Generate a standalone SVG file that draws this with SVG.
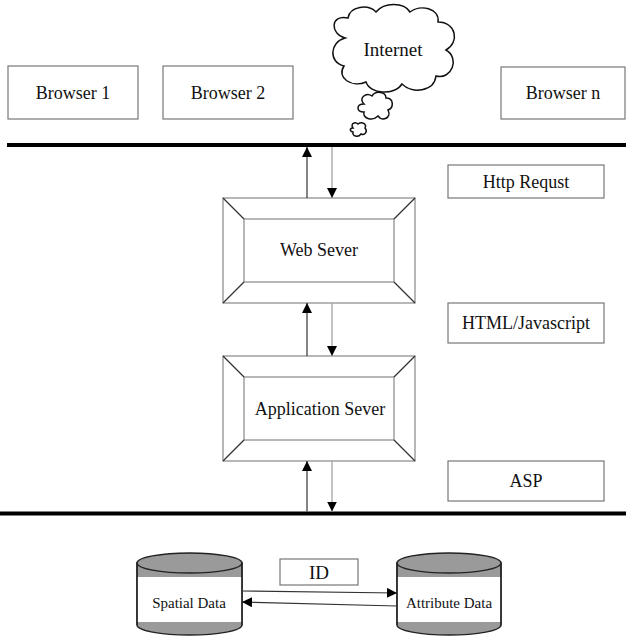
<svg xmlns="http://www.w3.org/2000/svg" width="626" height="636" viewBox="0 0 626 636">
  <defs>
    <style>
      .lbl { font-family: "Liberation Serif", "Times New Roman", serif; fill: #111; text-anchor: middle; }
      .box { fill: #fff; stroke: #777; stroke-width: 1.2; }
      .bevel { fill: #fff; stroke: #888; stroke-width: 1.2; }
      .bus { stroke: #000; stroke-width: 4; }
      .up { stroke: #333; stroke-width: 1.2; fill: none; }
      .down { stroke: #aaa; stroke-width: 1.4; fill: none; }
      .db { fill: #9a9a9a; stroke: #222; stroke-width: 1.4; }
      .cloud { fill: #fff; stroke: #111; stroke-width: 1.5; }
    </style>
    <marker id="ah" viewBox="0 0 10 10" refX="10" refY="5" markerWidth="10" markerHeight="10" markerUnits="userSpaceOnUse" orient="auto">
      <path d="M0,0 L10,5 L0,10 Z" fill="#000"/>
    </marker>
  </defs>

  <rect width="626" height="636" fill="#fff"/>

  <!-- clients -->
  <g id="browser1">
    <rect class="box" x="8" y="66" width="130" height="53"/>
    <text class="lbl" x="73" y="99" font-size="18">Browser 1</text>
  </g>
  <g id="browser2">
    <rect class="box" x="163" y="66" width="130" height="53"/>
    <text class="lbl" x="228" y="99" font-size="18">Browser 2</text>
  </g>
  <g id="browsern">
    <rect class="box" x="501" y="67" width="124" height="52"/>
    <text class="lbl" x="563" y="99" font-size="18">Browser n</text>
  </g>

  <!-- internet cloud -->
  <g id="internet">
    <path class="cloud" d="M345,38 C330,34 330,14 348,18 C350,6 368,4 376,12 C384,2 404,2 410,12 C420,4 440,8 438,22 C456,22 460,42 446,50 C460,58 452,80 436,76 C434,92 412,94 402,84 C394,96 370,94 366,82 C352,88 336,78 344,66 C328,62 330,42 345,38 Z"/>
    <path class="cloud" d="M364,104 C358,98 366,92 372,96 C376,90 386,92 386,98 C394,98 394,108 388,110 C392,118 382,122 378,116 C372,122 362,118 364,112 C356,112 356,104 364,104 Z"/>
    <path class="cloud" d="M353,128 C350,124 355,121 358,124 C362,121 367,124 365,128 C368,131 365,136 361,134 C358,138 352,136 353,132 C349,131 350,128 353,128 Z"/>
    <text class="lbl" x="393" y="56" font-size="19">Internet</text>
  </g>

  <!-- network buses -->
  <g id="buses">
    <line class="bus" x1="7" y1="145" x2="626" y2="145"/>
    <line class="bus" x1="0" y1="513.5" x2="626" y2="513.5"/>
  </g>

  <!-- servers -->
  <g id="websever">
    <rect class="bevel" x="223" y="198" width="192" height="105"/>
    <rect class="bevel" x="244" y="219" width="150" height="63"/>
    <g class="up" stroke="#888">
      <line x1="223" y1="198" x2="244" y2="219"/>
      <line x1="415" y1="198" x2="394" y2="219"/>
      <line x1="223" y1="303" x2="244" y2="282"/>
      <line x1="415" y1="303" x2="394" y2="282"/>
    </g>
    <text class="lbl" x="319" y="256" font-size="18">Web Sever</text>
  </g>

  <g id="appsever">
    <rect class="bevel" x="223" y="356" width="192" height="105"/>
    <rect class="bevel" x="244" y="377" width="150" height="63"/>
    <g class="up" stroke="#888">
      <line x1="223" y1="356" x2="244" y2="377"/>
      <line x1="415" y1="356" x2="394" y2="377"/>
      <line x1="223" y1="461" x2="244" y2="440"/>
      <line x1="415" y1="461" x2="394" y2="440"/>
    </g>
    <text class="lbl" x="320" y="415" font-size="18">Application Sever</text>
  </g>

  <!-- protocol labels -->
  <g id="httprequst">
    <rect class="box" x="448" y="165" width="156" height="33"/>
    <text class="lbl" x="526" y="188" font-size="18">Http Requst</text>
  </g>
  <g id="htmljs">
    <rect class="box" x="448" y="303" width="156" height="40"/>
    <text class="lbl" x="526" y="329" font-size="18">HTML/Javascript</text>
  </g>
  <g id="asp">
    <rect class="box" x="448" y="461" width="156" height="40"/>
    <text class="lbl" x="526" y="487" font-size="18">ASP</text>
  </g>

  <!-- data stores -->
  <g id="spatialdata">
    <path class="db" d="M137,563 L137,625 A52.5,10 0 0 0 242,625 L242,563 Z"/>
    <rect x="137.7" y="577" width="103.6" height="45" fill="#fff"/>
    <line x1="137" y1="563" x2="137" y2="625" stroke="#222" stroke-width="1.4"/>
    <line x1="242" y1="563" x2="242" y2="625" stroke="#222" stroke-width="1.4"/>
    <ellipse class="db" cx="189.5" cy="563" rx="52.5" ry="10"/>
    <text class="lbl" x="189" y="608" font-size="15">Spatial Data</text>
  </g>
  <g id="attributedata">
    <path class="db" d="M397,563 L397,625 A52,10 0 0 0 501,625 L501,563 Z"/>
    <rect x="397.7" y="577" width="102.6" height="45" fill="#fff"/>
    <line x1="397" y1="563" x2="397" y2="625" stroke="#222" stroke-width="1.4"/>
    <line x1="501" y1="563" x2="501" y2="625" stroke="#222" stroke-width="1.4"/>
    <ellipse class="db" cx="449" cy="563" rx="52" ry="10"/>
    <text class="lbl" x="449" y="608" font-size="15">Attribute Data</text>
  </g>
  <g id="idlabel">
    <rect class="box" x="280" y="559" width="78" height="26"/>
    <text class="lbl" x="319" y="579" font-size="19">ID</text>
  </g>

  <!-- connectors -->
  <g id="connectors">
    <line class="up" x1="307" y1="198" x2="307" y2="147" marker-end="url(#ah)"/>
    <line class="down" x1="332" y1="147" x2="332" y2="198" marker-end="url(#ah)"/>
    <line class="up" x1="307" y1="356" x2="307" y2="303" marker-end="url(#ah)"/>
    <line class="down" x1="332" y1="303" x2="332" y2="356" marker-end="url(#ah)"/>
    <line class="up" x1="307" y1="511.5" x2="307" y2="461" marker-end="url(#ah)"/>
    <line class="down" x1="332" y1="461" x2="332" y2="511.5" marker-end="url(#ah)"/>
    <line class="up" stroke="#888" x1="242" y1="591" x2="397" y2="593" marker-end="url(#ah)"/>
    <line class="up" stroke="#888" x1="397" y1="606" x2="242" y2="602" marker-end="url(#ah)"/>
  </g>
</svg>
